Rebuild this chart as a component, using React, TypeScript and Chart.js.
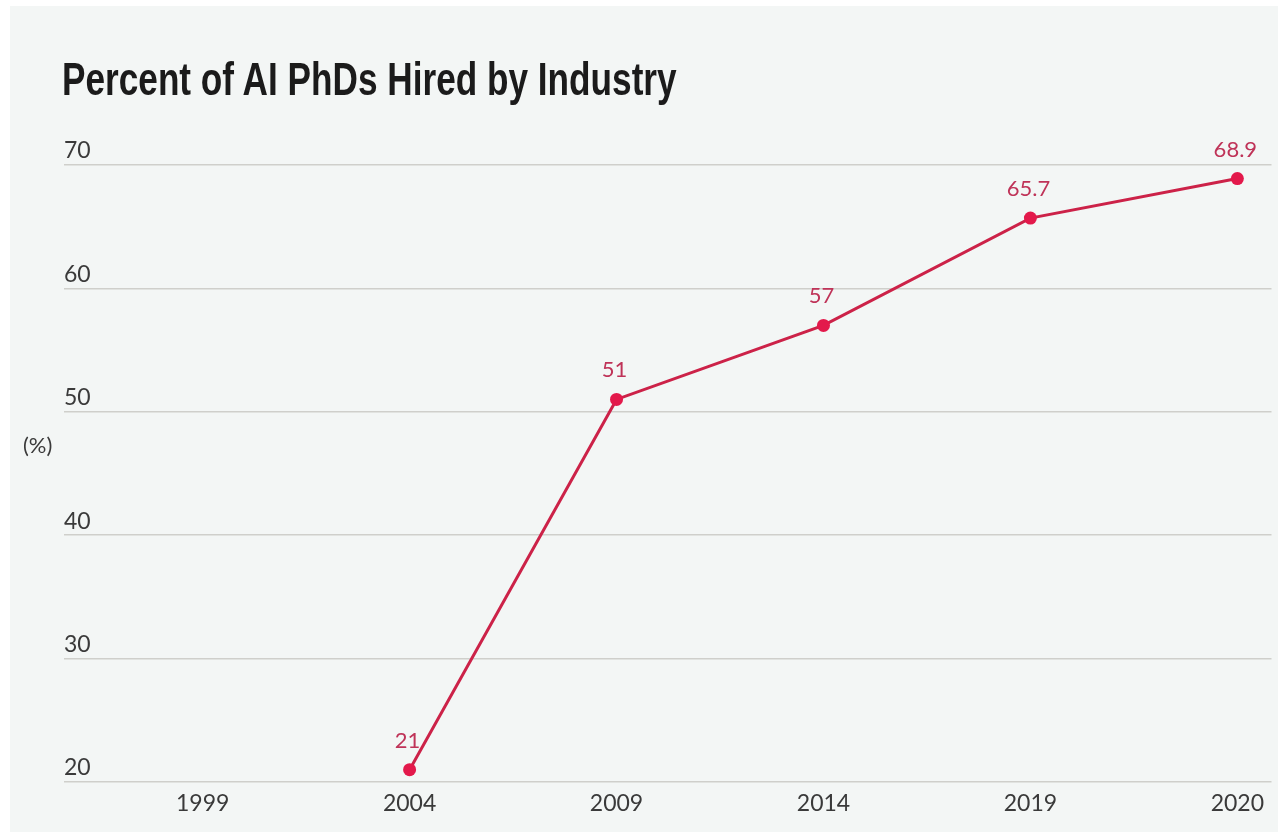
import React, { useEffect, useRef } from "react";
import { Chart, registerables } from "chart.js";

Chart.register(...registerables);

const years: string[] = ["1999", "2004", "2009", "2014", "2019", "2020"];
const industryShare: (number | null)[] = [null, 21, 51, 57, 65.7, 68.9];
const yTicks: number[] = [20, 30, 40, 50, 60, 70];
const titleText = "Percent of AI PhDs Hired by Industry";
const unitLabel = "(%)";

const W = 1278;
const H = 832;

export default function App() {
  const ref = useRef<HTMLCanvasElement>(null);

  useEffect(() => {
    if (!ref.current) return;
    const valueLabels = {
      id: "valueLabels",
      afterDatasetsDraw(chart: any) {
        const ctx = chart.ctx;
        const meta = chart.getDatasetMeta(0);
        ctx.save();
        ctx.font = "22px Lato";
        ctx.fillStyle = "#bf3358";
        ctx.textAlign = "center";
        ctx.textBaseline = "alphabetic";
        meta.data.forEach((el: any, i: number) => {
          const v = industryShare[i];
          if (v == null) return;
          ctx.fillText(String(v), el.x - 2, el.y - 22);
        });
        ctx.restore();
      },
    };

    const chart = new Chart(ref.current, {
      type: "line",
      data: {
        datasets: [
          {
            data: industryShare.map((v, i) => ({ x: i, y: v })) as any,
            borderColor: "#cc2248",
            borderWidth: 3,
            pointRadius: 6.5,
            pointHoverRadius: 6.5,
            pointBorderWidth: 0,
            pointBackgroundColor: "#e3194b",
            tension: 0,
          },
        ],
      },
      options: {
        animation: false,
        responsive: false,
        events: [],
        layout: { padding: { left: 64, right: 3, top: 165, bottom: 0 } },
        plugins: { legend: { display: false }, tooltip: { enabled: false }, title: { display: false } },
        scales: {
          x: {
            type: "linear",
            min: -0.67,
            max: 5.165,
            grid: { display: false, drawTicks: false },
            border: { display: false },
            afterBuildTicks: (scale: any) => {
              scale.ticks = years.map((_, i) => ({ value: i }));
            },
            afterFit: (scale: any) => {
              scale.height = 50;
            },
            ticks: {
              padding: 8,
              color: "#3a3a3a",
              font: { family: "Lato", size: 23 },
              maxRotation: 0,
              autoSkip: false,
              callback: (v: any) => years[Number(v)] ?? "",
            },
          },
          y: {
            min: 20,
            max: 70,
            grid: { color: "#cfcfcb", lineWidth: 1.5, drawTicks: false },
            border: { display: false },
            afterBuildTicks: (scale: any) => {
              scale.ticks = yTicks.map((v) => ({ value: v }));
            },
            afterFit: (scale: any) => {
              scale.width = 0;
            },
            ticks: {
              mirror: true,
              padding: 0,
              labelOffset: -14,
              color: "#3a3a3a",
              font: { family: "Lato", size: 23 },
              callback: (v: any) => String(v),
            },
          },
        },
      },
      plugins: [valueLabels],
    } as any);

    return () => chart.destroy();
  }, []);

  return (
    <div style={{ position: "absolute", left: 0, top: 0, width: W, height: H, background: "#ffffff", overflow: "hidden" }}>
      <div style={{ position: "absolute", left: 10, top: 6, right: 0, bottom: 0, background: "#f3f6f5" }} />
      <canvas ref={ref} width={W} height={H} style={{ position: "absolute", left: 0, top: 0, width: W, height: H }} />
      <div
        style={{
          position: "absolute",
          left: 62,
          top: 56,
          fontFamily: "'Liberation Sans Narrow', 'Liberation Sans', sans-serif",
          fontWeight: 700,
          fontSize: 46,
          lineHeight: 1,
          color: "#1b1b1b",
          whiteSpace: "nowrap",
          transform: "scaleX(0.765)",
          transformOrigin: "left top",
        }}
      >
        {titleText}
      </div>
      <div
        style={{
          position: "absolute",
          left: 23,
          top: 434,
          fontFamily: "Lato, sans-serif",
          fontSize: 22,
          lineHeight: 1,
          color: "#3a3a3a",
        }}
      >
        {unitLabel}
      </div>
    </div>
  );
}
